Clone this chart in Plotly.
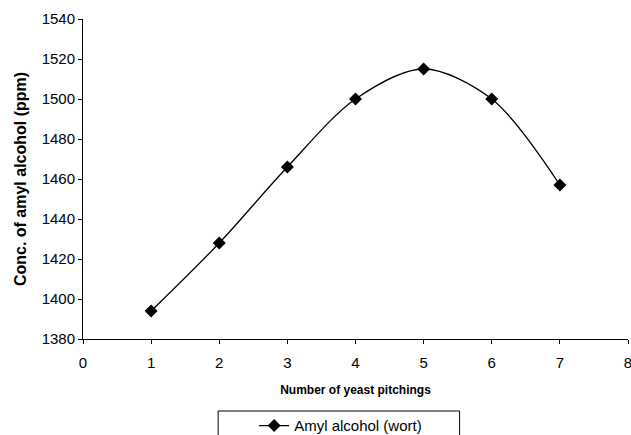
import plotly.graph_objects as go

# data
pitchings = [1, 2, 3, 4, 5, 6, 7]
amyl_alcohol = [1394, 1428, 1466, 1500, 1515, 1500, 1457]

x_ticks = list(range(0, 9))
y_ticks = list(range(1380, 1541, 20))

FONT = "Liberation Sans, Arial, sans-serif"

fig = go.Figure()
fig.add_trace(
    go.Scatter(
        x=pitchings,
        y=amyl_alcohol,
        mode="lines+markers",
        line=dict(color="black", width=1.3, shape="spline", smoothing=0.9),
        marker=dict(symbol="diamond", size=10, color="black"),
        name="Amyl alcohol (wort)",
        cliponaxis=False,
    )
)

# legend frame (cut off by the bottom edge, as in the reference)
fig.add_shape(
    type="rect", xref="paper", yref="paper",
    x0=0.248, x1=0.691, y0=-0.34, y1=-0.225,
    line=dict(color="black", width=1), fillcolor="rgba(0,0,0,0)",
)

fig.update_layout(
    width=631,
    height=435,
    autosize=False,
    margin=dict(l=83, r=3, t=19, b=96),
    plot_bgcolor="white",
    paper_bgcolor="white",
    font=dict(family=FONT, size=15, color="black"),
    showlegend=True,
    # container y-ref so the legend does not push the bottom margin
    legend=dict(
        xref="paper", yref="container",
        x=0.314, y=0.021, xanchor="left", yanchor="middle",
        bgcolor="rgba(0,0,0,0)", borderwidth=0,
        font=dict(size=15), itemwidth=30,
    ),
)
fig.update_xaxes(
    range=[0, 8],
    tickvals=x_ticks,
    ticks="outside", ticklen=4, tickcolor="black", ticklabelstandoff=6,
    ticklabeloverflow="allow",
    showline=True, linecolor="black", linewidth=1,
    showgrid=False, zeroline=False, automargin=False,
    title=dict(text="<b>Number of yeast pitchings</b>", font=dict(size=12), standoff=15),
)
fig.update_yaxes(
    range=[1380, 1540],
    tickvals=y_ticks,
    ticks="outside", ticklen=4, tickcolor="black",
    showline=True, linecolor="black", linewidth=1,
    showgrid=False, zeroline=False, automargin=False,
    title=dict(text="<b>Conc. of amyl alcohol (ppm)</b>", font=dict(size=16), standoff=11),
)

# page body has a default 8px margin; drop it so the figure sits at the corner
fig.write_html(
    "out.html",
    config={"displayModeBar": False, "responsive": False},
    post_script="document.body.style.margin='0';",
)
